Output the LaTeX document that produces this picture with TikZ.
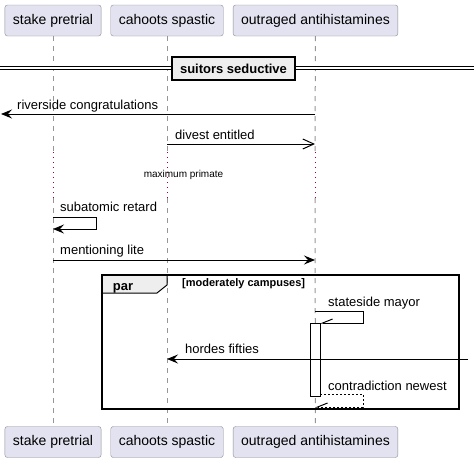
\documentclass[tikz,border=0pt]{standalone}
\usepackage{fontspec}
\setmainfont{Liberation Sans}
\usetikzlibrary{arrows.meta}
\definecolor{partfill}{RGB}{226,226,240}
\definecolor{partline}{RGB}{140,140,150}
\definecolor{lifegray}{RGB}{150,150,150}
\definecolor{delaydot}{RGB}{168,0,54}
\definecolor{groupfill}{RGB}{238,238,238}

\begin{document}
\begin{tikzpicture}[x=1pt,y=1pt,yscale=-1,xscale=1,
  participant/.style={draw=partline,fill=partfill,rounded corners=2.5pt,minimum height=31pt,inner xsep=8pt,font=\fontsize{14}{16}\selectfont},
  msgtext/.style={anchor=base west,inner sep=0pt,font=\fontsize{13}{15}\selectfont},
  solidhead/.style={line width=1pt,-{Stealth[length=11pt,width=9pt,inset=4pt]}},
  openhead/.style={line width=1pt,-{Straight Barb[length=11pt,width=10pt]}},
  halfhead/.style={line width=1pt,-{Straight Barb[harpoon,swap,length=10pt,width=8pt]}},
  lifedash/.style={draw=lifegray,line width=1pt,dash pattern={on 5pt off 5pt}},
  delaydots/.style={draw=delaydot,line width=1pt,dash pattern={on 1pt off 4pt}}
]
\useasboundingbox (0,0) rectangle (474,463);

%Participants (top and bottom)
\node [participant] (stakeT) at (53,20.5) {stake pretrial};
\node [participant] (cahootsT) at (167,20.5) {cahoots spastic};
\node [participant] (outragedT) at (315.5,20.5) {outraged antihistamines};
\node [participant] (stakeB) at (53,442) {stake pretrial};
\node [participant] (cahootsB) at (167,442) {cahoots spastic};
\node [participant] (outragedB) at (315.5,442) {outraged antihistamines};

%Lifelines with delay
\foreach \p/\x in {stake/53,cahoots/167,outraged/315} {
  \coordinate (\p D1) at (\x,152);
  \coordinate (\p D2) at (\x,198);
  \draw [lifedash] (\p T) -- (\p D1);
  \draw [delaydots] (\p D1) -- (\p D2);
  \draw [lifedash] (\p D2) -- (\p B);
}

%Separator
\draw [line width=1pt,double distance=2pt] (0,67.5) -- (474,67.5);
\node [draw,line width=1.5pt,fill=groupfill,minimum width=123pt,minimum height=23pt,inner sep=0pt,font=\fontsize{13}{15}\selectfont\bfseries] (sepbox) at (233.5,68.5) {suitors seductive};

%Messages
\coordinate (m1a) at (315,114);
\coordinate (m1b) at (1,114);
\draw [solidhead] (m1a) -- (m1b);
\node [msgtext] (m1t) at (17,109) {riverside congratulations};

\coordinate (m2a) at (167,144);
\coordinate (m2b) at (315,144);
\draw [openhead] (m2a) -- (m2b);
\node [msgtext] (m2t) at (175,139) {divest entitled};

% Text Node
\node [anchor=base,inner sep=0pt,font=\fontsize{10}{12}\selectfont] (delayt) at (183.5,177) {maximum primate};

\coordinate (m3a) at (53,217);
\coordinate (m3b) at (53,229);
\draw [solidhead] (m3a) -- (96,217) -- (96,229) -- (m3b);
\node [msgtext] (m3t) at (60,211) {subatomic retard};

\coordinate (m4a) at (53,260);
\coordinate (m4b) at (315,260);
\draw [solidhead] (m4a) -- (m4b);
\node [msgtext] (m4t) at (60,254) {mentioning lite};

%Group par
\draw [fill=groupfill,line width=1pt] (102,275) -- (167,275) -- (167,285) -- (157,293) -- (102,293) -- cycle;
\draw [line width=1.5pt] (102,275) rectangle (459,409);
\node [anchor=base,inner sep=0pt,font=\fontsize{13}{15}\selectfont\bfseries] (part) at (123,290) {par};
\node [anchor=base west,inner sep=0pt,font=\fontsize{11}{13}\selectfont\bfseries] (guardt) at (182,286) {[moderately campuses]};

%Activation
\draw [fill=white,line width=1pt] (310,323) rectangle (320,396);
\coordinate (actTop) at (320,323);
\coordinate (actBot) at (320,394);

\coordinate (m5a) at (315,311);
\draw [halfhead] (m5a) -- (363,311) -- (363,323) -- (actTop);
\node [msgtext] (m5t) at (328,306) {stateside mayor};

\coordinate (m6a) at (468,359);
\coordinate (m6b) at (167,359);
\draw [solidhead] (m6a) -- (m6b);
\node [msgtext] (m6t) at (185,353) {hordes fifties};

\coordinate (m7b) at (315,407);
\draw [halfhead,dash pattern={on 2pt off 2pt}] (actBot) -- (363,394) -- (363,407) -- (m7b);
\node [msgtext] (m7t) at (328,390) {contradiction newest};

\end{tikzpicture}
\end{document}
